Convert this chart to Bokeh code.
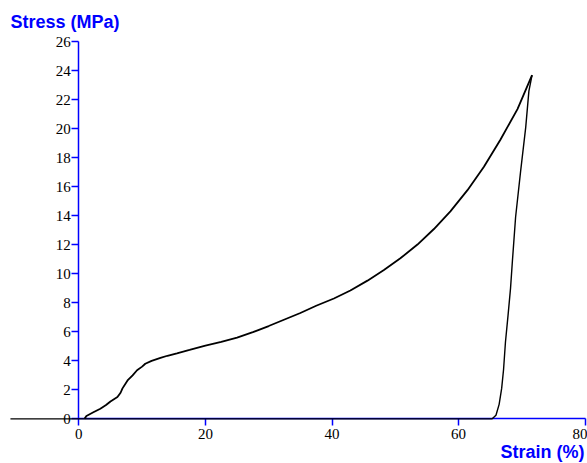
from bokeh.plotting import figure
from bokeh.models import FixedTicker, Range1d, Label
from bokeh.embed import file_html
from bokeh.resources import INLINE

# Loading branch (strain %, stress MPa)
load_strain = [0.9, 1.2, 2.3, 3.4, 4.3, 5.0, 6.1, 6.6, 6.9, 7.7, 8.5, 9.2, 10.0, 10.5,
               11.5, 12.9, 14.0, 15.5, 17.5, 20.0, 22.5, 25.0, 27.5, 30.0, 32.5, 35.0,
               37.5, 40.3, 42.9, 45.6, 48.2, 50.8, 53.5, 56.1, 58.7, 61.4, 64.0, 66.6,
               69.3, 71.6]
load_stress = [0.0, 0.2, 0.45, 0.7, 0.95, 1.2, 1.5, 1.8, 2.1, 2.65, 3.0, 3.35, 3.6, 3.8,
               4.0, 4.2, 4.35, 4.52, 4.75, 5.05, 5.3, 5.6, 5.98, 6.4, 6.85, 7.3,
               7.8, 8.3, 8.85, 9.53, 10.26, 11.07, 12.02, 13.09, 14.31, 15.77, 17.38, 19.25,
               21.36, 23.7]

# Unloading branch, then the zero-stress baseline
unload_strain = [71.6, 71.1, 70.6, 69.8, 69.0, 68.5, 68.2, 67.8, 67.4, 67.1, 66.8, 66.4,
                 65.9, 65.3, -10.8]
unload_stress = [23.7, 22.6, 20.1, 17.1, 13.9, 10.9, 9.0, 7.1, 5.3, 3.4, 2.1, 1.0,
                 0.25, 0.0, 0.0]

x_ticks = [0, 20, 40, 60, 80]
y_ticks = [0, 2, 4, 6, 8, 10, 12, 14, 16, 18, 20, 22, 24, 26]

BLUE = "#0000ff"

p = figure(width=587, height=463, output_backend="svg", toolbar_location=None,
           x_range=Range1d(-12.37, 80.36), y_range=Range1d(-3.08, 28.85),
           min_border=0, min_border_left=0, min_border_right=0,
           min_border_top=0, min_border_bottom=0)
p.title.visible = False

p.line(load_strain, load_stress, line_color="black", line_width=1.8, level="overlay")
p.line(unload_strain, unload_stress, line_color="black", line_width=1.4, level="overlay")

p.xaxis.fixed_location = 0
p.yaxis.fixed_location = 0
p.xaxis.bounds = (0, 80)
p.yaxis.bounds = (0, 26)
p.xaxis.ticker = FixedTicker(ticks=x_ticks)
p.yaxis.ticker = FixedTicker(ticks=y_ticks)
for ax in p.axis:
    ax.axis_line_color = BLUE
    ax.axis_line_width = 1.5
    ax.major_tick_line_color = BLUE
    ax.major_tick_line_width = 1.5
    ax.major_tick_out = 7
    ax.major_tick_in = 0
    ax.minor_tick_out = 0
    ax.minor_tick_in = 0
    ax.major_label_text_font = "Liberation Serif"
    ax.major_label_text_font_size = "15px"
    ax.major_label_text_color = "black"
p.yaxis.major_label_standoff = 1
p.xaxis.major_label_standoff = 3

p.grid.visible = False
p.outline_line_color = None

p.add_layout(Label(x=10, y=442, x_units="screen", y_units="screen", text="Stress (MPa)",
                   text_font="Liberation Sans", text_font_size="18px",
                   text_font_style="bold", text_color=BLUE,
                   text_align="left", text_baseline="alphabetic"))
p.add_layout(Label(x=584, y=12, x_units="screen", y_units="screen", text="Strain (%)",
                   text_font="Liberation Sans", text_font_size="18px",
                   text_font_style="bold", text_color=BLUE,
                   text_align="right", text_baseline="alphabetic"))

open("out.html", "w").write(file_html(p, INLINE))
